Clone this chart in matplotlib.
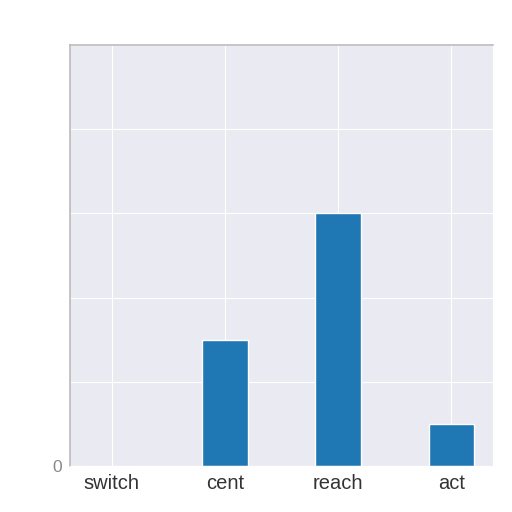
import matplotlib
matplotlib.use("Agg")
import matplotlib.pyplot as plt
import seaborn as sns

# hours per tag
tags = ["switch", "cent", "reach", "act"]
hours = [0.0, 1.5, 3.0, 0.5]
y_ticks = [0, 1, 2, 3, 4, 5]
y_labels = ["0", "", "", "", "", ""]

sns.set_style("darkgrid")
plt.rcParams['font.family'] = ['Liberation Sans', 'DejaVu Sans']

fig = plt.figure(figsize=(5.12, 5.12), dpi=100)
ax = fig.add_axes([70 / 512, 46 / 512, 423 / 512, 421 / 512])

ax.bar(tags, hours, width=0.4, color="#1f77b4")

ax.set_xlim(-0.37, 3.37)
ax.set_ylim(0, 5)
ax.set_yticks(y_ticks)
ax.set_yticklabels(y_labels)
ax.tick_params(axis="x", labelsize=14.5, colors="#333333", pad=2)
ax.tick_params(axis="y", labelsize=12.5, colors="#888888", pad=2)

for side in ["left", "top"]:
    ax.spines[side].set_visible(True)
    ax.spines[side].set_color("#bbbbbb")
    ax.spines[side].set_linewidth(1.2)

fig.savefig("out.png", dpi=100)
